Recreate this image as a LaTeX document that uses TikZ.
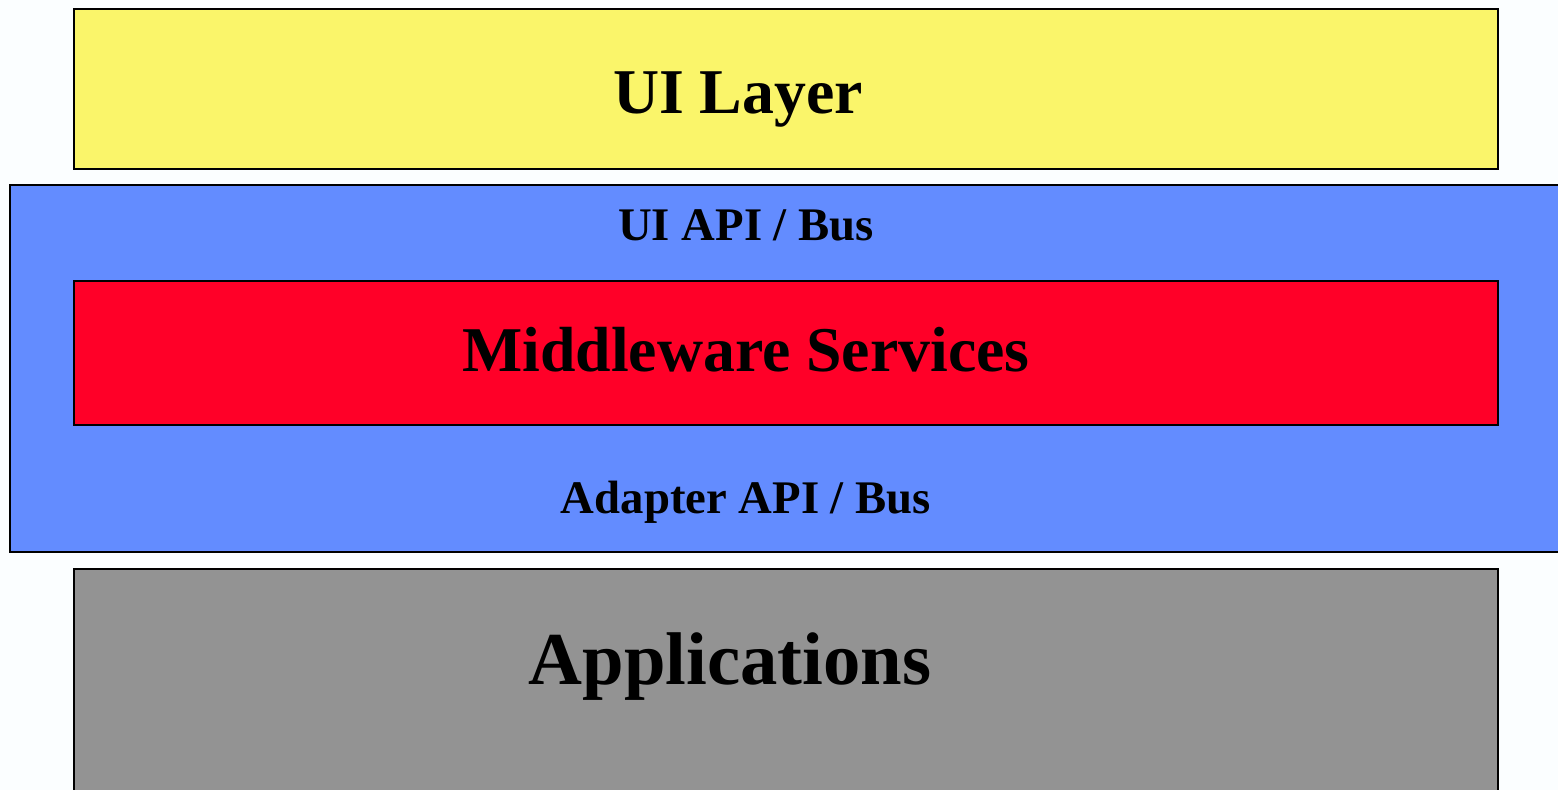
\documentclass[tikz,border=0pt]{standalone}
\usepackage{fontspec}
\setmainfont{Liberation Serif}
\definecolor{bgc}{RGB}{251,254,255}
\definecolor{uiyellow}{RGB}{250,245,106}
\definecolor{busblue}{RGB}{99,140,255}
\definecolor{mwred}{RGB}{255,0,40}
\definecolor{appgray}{RGB}{147,147,147}
\begin{document}
\begin{tikzpicture}[x=0.02cm,y=-0.02cm,
  layer/.style={draw=black,line width=1.13pt},
  bigtext/.style={anchor=base,inner sep=0pt,font=\bfseries\fontsize{36.3}{40}\selectfont},
  bustext/.style={anchor=base,inner sep=0pt,font=\bfseries\fontsize{26.6}{30}\selectfont},
  apptext/.style={anchor=base,inner sep=0pt,font=\bfseries\fontsize{42.5}{46}\selectfont}]
\useasboundingbox (0,0) rectangle (1558,790);
\clip (0,0) rectangle (1558,790);
\fill[bgc] (0,0) rectangle (1558,790);
% UI layer
\path[layer,fill=uiyellow] (74,9) rectangle (1498,169);
\node[bigtext] (ui) at (738,114) {UI Layer};
% bus
\path[layer,fill=busblue] (10,185) rectangle (1570,552);
\node[bustext] (uiapi) at (746,241) {UI API / Bus};
% middleware
\path[layer,fill=mwred] (74,281) rectangle (1498,425);
\node[bigtext] (mw) at (746,372) {Middleware Services};
\node[bustext] (adapi) at (746,513) {Adapter API / Bus};
% applications
\path[layer,fill=appgray] (74,569) rectangle (1498,800);
\node[apptext] (apps) at (730,684) {Applications};
\end{tikzpicture}
\end{document}
